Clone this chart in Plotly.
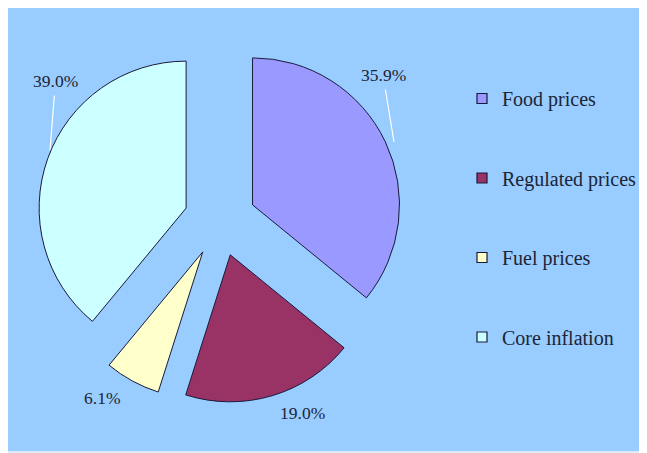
import plotly.graph_objects as go

categories = ["Food prices", "Regulated prices", "Fuel prices", "Core inflation"]
shares = [35.9, 19.0, 6.1, 39.0]
colors = ["#9999FF", "#993366", "#FFFFCC", "#CCFFFF"]
label_texts = [f"{v:.1f}%" for v in shares]

W, H = 647, 453
edge = "#1a1a3a"
txtcol = "#1c2436"

# label placement (figure pixels): text centre, and optional leader-line end on the slice
label_pos = [(375, 67), (294.5, 405), (94.3, 390.3), (47.5, 73)]
leader_end = [(386, 134), None, None, (42, 142)]

fig = go.Figure()

fig.add_trace(go.Pie(
    labels=categories,
    values=shares,
    sort=False,
    direction="clockwise",
    rotation=0,
    pull=[0.245] * len(shares),
    marker=dict(colors=colors, line=dict(color=edge, width=1)),
    textinfo="none",
    domain=dict(x=[29 / W, 395 / W], y=[57.7 / H, 423.7 / H]),
    showlegend=False,
    hoverinfo="label+percent",
))

# legend entries (one per category)
for i, (name, col) in enumerate(zip(categories, colors)):
    fig.add_trace(go.Scatter(
        x=[None], y=[None], mode="markers", name=name,
        legendgroup=f"g{i}",
        marker=dict(symbol="square", size=10, color=col, line=dict(color=edge, width=1.2)),
        hoverinfo="skip",
    ))

annotations = []
for txt, (tx, ty), le in zip(label_texts, label_pos, leader_end):
    font = dict(family="Liberation Serif", size=17.5, color=txtcol)
    if le is None:
        annotations.append(dict(
            text=txt, xref="paper", yref="paper", x=tx / W, y=1 - ty / H,
            xanchor="center", yanchor="middle", showarrow=False, font=font))
    else:
        ex, ey = le
        annotations.append(dict(
            text=txt, xref="paper", yref="paper", x=ex / W, y=1 - ey / H,
            ax=tx - ex, ay=ty - ey, showarrow=True, arrowhead=0,
            arrowcolor="white", arrowwidth=1.2, standoff=0, borderpad=4,
            font=font))

fig.update_layout(
    width=W, height=H,
    margin=dict(l=0, r=0, t=0, b=0, pad=0, autoexpand=False),
    paper_bgcolor="#99CCFF",
    plot_bgcolor="rgba(0,0,0,0)",
    xaxis=dict(visible=False),
    yaxis=dict(visible=False),
    legend=dict(
        x=454 / W, y=1 - 71 / H, xanchor="left", yanchor="top",
        font=dict(family="Liberation Serif", size=20, color=txtcol),
        tracegroupgap=50.5,
        bgcolor="rgba(0,0,0,0)",
    ),
    annotations=annotations,
    shapes=[
        dict(type="rect", xref="paper", yref="paper", x0=0, x1=1, y0=0, y1=10 / H,
             fillcolor="#DCEBFA", line=dict(width=0), layer="above"),
    ],
)

fig.write_html("out.html")
